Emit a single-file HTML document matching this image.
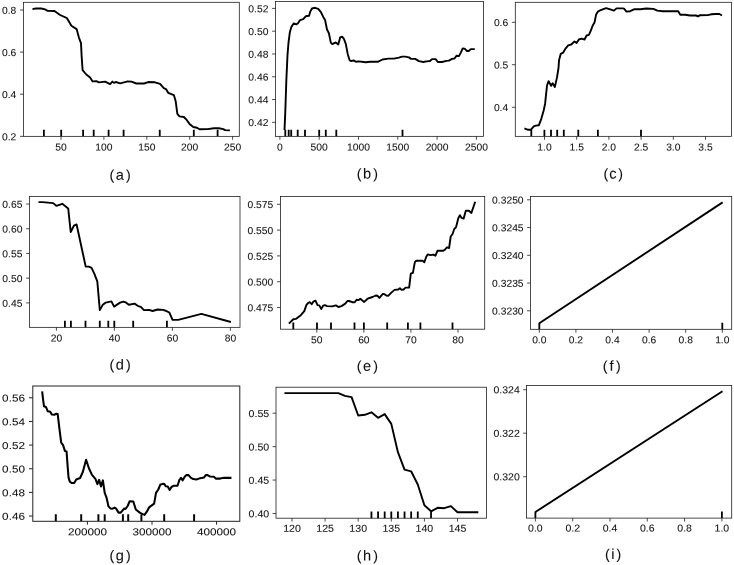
<!DOCTYPE html>
<html><head><meta charset="utf-8"><title>Partial dependence plots</title>
<style>
html,body{margin:0;padding:0;background:#fff;}
body{width:734px;height:565px;overflow:hidden;}
svg{display:block;filter:grayscale(1);}
svg text{font-family:"Liberation Sans",sans-serif;fill:#111;stroke:#111;stroke-width:0.08px;text-rendering:geometricPrecision;}
</style></head><body>
<svg xmlns="http://www.w3.org/2000/svg" width="734" height="565" viewBox="0 0 734 565">
<rect width="734" height="565" fill="#fff"/>
<g id="pa">
<polyline points="32.5,9.15 35.65,8.5 41.3,8.5 45.05,9.4 47.6,10.8 54.5,11 60.1,15 67,18.2 71.4,25.7 76.6,29.1 78.9,37.6 81,43.2 81.65,56.4 82.6,70.1 86.3,74.5 90.1,77.6 92.6,81.4 96.4,81.1 98.9,82.4 105.1,81.6 110.1,84.15 112.4,81.6 113.9,82.9 115.8,82 120.2,83.3 127.7,81.4 131.4,81.6 136.5,83.5 144,83.5 148.15,82.05 155,82.3 160.05,83.8 163.8,88.2 165.95,89.1 168.2,92.85 173.85,95.1 175.7,101.35 177.35,113.9 179.5,116.4 183.9,117 186.4,119.55 189.5,123.9 193.3,127.05 197,127.7 199.5,129.3 207.6,129.1 213.9,128.2 218.9,128.2 223.3,129.1 225.15,130.1 229.9,130.35" fill="none" stroke="#000" stroke-width="1.9" stroke-linejoin="round" stroke-linecap="butt"/>
<path d="M43.9 136.35V129.75M61.2 136.35V129.75M83.1 136.35V129.75M93.7 136.35V129.75M108.6 136.35V129.75M123.6 136.35V129.75M159.75 136.35V129.75M193.8 136.35V129.75M217.6 136.35V129.75" stroke="#000" stroke-width="1.8" fill="none"/>
<rect x="23.4" y="2.3" width="215.9" height="134.05" fill="none" stroke="#1a1a1a" stroke-width="0.78"/>
<path d="M61 136.35v3.4M103.9 136.35v3.4M146.8 136.35v3.4M189.7 136.35v3.4M232.6 136.35v3.4M23.4 10h-3.4M23.4 52.1h-3.4M23.4 94.2h-3.4M23.4 136.35h-3.4" stroke="#1a1a1a" stroke-width="0.78" fill="none"/>
<text transform="translate(61 150.4) rotate(0.03) scale(1.03 1)" text-anchor="middle" font-size="10.0">50</text>
<text transform="translate(103.9 150.4) rotate(0.03) scale(1.03 1)" text-anchor="middle" font-size="10.0">100</text>
<text transform="translate(146.8 150.4) rotate(0.03) scale(1.03 1)" text-anchor="middle" font-size="10.0">150</text>
<text transform="translate(189.7 150.4) rotate(0.03) scale(1.03 1)" text-anchor="middle" font-size="10.0">200</text>
<text transform="translate(232.6 150.4) rotate(0.03) scale(1.03 1)" text-anchor="middle" font-size="10.0">250</text>
<text transform="translate(16.3 13.8) rotate(0.03) scale(1.03 1)" text-anchor="end" font-size="10.0">0.8</text>
<text transform="translate(16.3 55.9) rotate(0.03) scale(1.03 1)" text-anchor="end" font-size="10.0">0.6</text>
<text transform="translate(16.3 98) rotate(0.03) scale(1.03 1)" text-anchor="end" font-size="10.0">0.4</text>
<text transform="translate(16.3 140.15) rotate(0.03) scale(1.03 1)" text-anchor="end" font-size="10.0">0.2</text>
<text transform="translate(109.55 179.7) rotate(0.03)" font-size="14.2">(</text>
<text transform="translate(130.75 179.7) rotate(0.03)" text-anchor="end" font-size="14.2">)</text>
<text transform="translate(119.85 179.7) rotate(0.03)" text-anchor="middle" font-size="14.6">a</text>
</g>
<g id="pb">
<polyline points="284.5,130.1 285.26,112.7 286.35,80 287.5,55.15 288.5,42.6 289.8,32.6 291.3,26.95 293.8,23.4 296.3,24.4 298.2,22.9 300.1,20.05 303.2,19.2 305.7,16.3 309.1,15.7 310.1,11.9 312,8.5 315.1,7.8 318.2,8.8 320.75,11.9 323.25,16.9 325.1,20.05 327,29.45 328.9,33.2 330.8,42.6 332.3,44.1 335.8,42.4 338.3,44.5 340.2,37.35 342.1,36.7 343.9,38.85 345.8,43.9 347.7,53.9 349.6,60.2 350.8,61 354,60.5 355.85,61.7 358.8,61.35 365.7,62.2 370.1,61.7 378.2,61.7 382.6,59.5 388.25,58.6 393.9,58.6 398.9,57.6 402,56.6 405.2,56.6 408.9,57.35 411.05,58.85 415.2,58.85 418.95,61.1 423.3,62 426.5,61.35 430,61 432,59.1 435.6,59.1 437.85,62 442,62 446.4,60.9 448.9,60.6 452,58.9 454.5,58.5 456.65,55.7 458.9,56.1 460.8,52.6 462.7,48.5 464.55,48.6 467.05,51 468.7,51 470.8,49.1 474.8,49.1" fill="none" stroke="#000" stroke-width="1.9" stroke-linejoin="round" stroke-linecap="butt"/>
<path d="M285.3 136.35V129.75M288.7 136.35V129.75M291.2 136.35V129.75M297.7 136.35V129.75M305 136.35V129.75M319.2 136.35V129.75M325.8 136.35V129.75M336.3 136.35V129.75M402.5 136.35V129.75" stroke="#000" stroke-width="1.8" fill="none"/>
<rect x="275.5" y="1.6" width="208.1" height="134.75" fill="none" stroke="#1a1a1a" stroke-width="0.78"/>
<path d="M279.9 136.35v3.4M319.2 136.35v3.4M358.5 136.35v3.4M397.8 136.35v3.4M437.1 136.35v3.4M476.4 136.35v3.4M275.5 8.4h-3.4M275.5 31.18h-3.4M275.5 53.96h-3.4M275.5 76.74h-3.4M275.5 99.52h-3.4M275.5 122.3h-3.4" stroke="#1a1a1a" stroke-width="0.78" fill="none"/>
<text transform="translate(279.9 150.4) rotate(0.03) scale(1.03 1)" text-anchor="middle" font-size="10.0">0</text>
<text transform="translate(319.2 150.4) rotate(0.03) scale(1.03 1)" text-anchor="middle" font-size="10.0">500</text>
<text transform="translate(358.5 150.4) rotate(0.03) scale(1.03 1)" text-anchor="middle" font-size="10.0">1000</text>
<text transform="translate(397.8 150.4) rotate(0.03) scale(1.03 1)" text-anchor="middle" font-size="10.0">1500</text>
<text transform="translate(437.1 150.4) rotate(0.03) scale(1.03 1)" text-anchor="middle" font-size="10.0">2000</text>
<text transform="translate(476.4 150.4) rotate(0.03) scale(1.03 1)" text-anchor="middle" font-size="10.0">2500</text>
<text transform="translate(268.4 12.2) rotate(0.03) scale(1.03 1)" text-anchor="end" font-size="10.0">0.52</text>
<text transform="translate(268.4 34.98) rotate(0.03) scale(1.03 1)" text-anchor="end" font-size="10.0">0.50</text>
<text transform="translate(268.4 57.76) rotate(0.03) scale(1.03 1)" text-anchor="end" font-size="10.0">0.48</text>
<text transform="translate(268.4 80.54) rotate(0.03) scale(1.03 1)" text-anchor="end" font-size="10.0">0.46</text>
<text transform="translate(268.4 103.32) rotate(0.03) scale(1.03 1)" text-anchor="end" font-size="10.0">0.44</text>
<text transform="translate(268.4 126.1) rotate(0.03) scale(1.03 1)" text-anchor="end" font-size="10.0">0.42</text>
<text transform="translate(356.8 178.6) rotate(0.03)" font-size="14.2">(</text>
<text transform="translate(377.9 178.6) rotate(0.03)" text-anchor="end" font-size="14.2">)</text>
<text transform="translate(367.05 178.6) rotate(0.03)" text-anchor="middle" font-size="14.6">b</text>
</g>
<g id="pc">
<polyline points="524.4,128.4 528.2,129.8 530.7,129.8 533.8,126.3 535.7,125.65 538.8,125.3 541.3,118.8 543.8,110 545.1,103.7 547,85.55 548.6,81.15 551.1,85.8 552.6,83.3 554.85,87.05 557,77.4 558.5,68 559.05,60.2 560.7,53.9 563.2,52.6 565.7,48.3 568.2,45.4 571.3,44.5 574.5,41.4 576.6,42.9 578.85,39.5 581.4,38.6 584.5,39.5 586.6,35.5 588.9,34.85 590.8,30.7 592.6,25.7 594.5,22.6 596.15,14.4 597.65,11.9 600.2,10.3 603.3,9.15 606.2,8.15 610.2,9.4 613.95,10.65 616.5,8.4 622.7,8.4 624,8.6 626.5,11.6 630.1,11.2 634,9.3 640.2,9.3 646.4,8.5 653.4,8.85 657.3,10.6 662.7,11.2 678.2,11.2 680.3,14.75 685.2,14.75 689.9,15.5 696.1,15.5 698,16.3 700,15.2 707.75,15.1 711.6,14.3 715.5,14 719.4,14 722,15.5" fill="none" stroke="#000" stroke-width="1.9" stroke-linejoin="round" stroke-linecap="butt"/>
<path d="M531.3 136.35V129.75M544.4 136.35V129.75M551 136.35V129.75M557.2 136.35V129.75M563.8 136.35V129.75M578.3 136.35V129.75M597.9 136.35V129.75M641 136.35V129.75" stroke="#000" stroke-width="1.8" fill="none"/>
<rect x="515.3" y="2.3" width="216.3" height="134.05" fill="none" stroke="#1a1a1a" stroke-width="0.78"/>
<path d="M544.5 136.35v3.4M576.7 136.35v3.4M608.9 136.35v3.4M641.1 136.35v3.4M673.3 136.35v3.4M705.5 136.35v3.4M515.3 22.3h-3.4M515.3 64.7h-3.4M515.3 107.3h-3.4" stroke="#1a1a1a" stroke-width="0.78" fill="none"/>
<text transform="translate(544.5 150.4) rotate(0.03) scale(1.03 1)" text-anchor="middle" font-size="10.0">1.0</text>
<text transform="translate(576.7 150.4) rotate(0.03) scale(1.03 1)" text-anchor="middle" font-size="10.0">1.5</text>
<text transform="translate(608.9 150.4) rotate(0.03) scale(1.03 1)" text-anchor="middle" font-size="10.0">2.0</text>
<text transform="translate(641.1 150.4) rotate(0.03) scale(1.03 1)" text-anchor="middle" font-size="10.0">2.5</text>
<text transform="translate(673.3 150.4) rotate(0.03) scale(1.03 1)" text-anchor="middle" font-size="10.0">3.0</text>
<text transform="translate(705.5 150.4) rotate(0.03) scale(1.03 1)" text-anchor="middle" font-size="10.0">3.5</text>
<text transform="translate(508.2 26.1) rotate(0.03) scale(1.03 1)" text-anchor="end" font-size="10.0">0.6</text>
<text transform="translate(508.2 68.5) rotate(0.03) scale(1.03 1)" text-anchor="end" font-size="10.0">0.5</text>
<text transform="translate(508.2 111.1) rotate(0.03) scale(1.03 1)" text-anchor="end" font-size="10.0">0.4</text>
<text transform="translate(603.52 178.6) rotate(0.03)" font-size="14.2">(</text>
<text transform="translate(623.01 178.6) rotate(0.03)" text-anchor="end" font-size="14.2">)</text>
<text transform="translate(612.97 178.6) rotate(0.03)" text-anchor="middle" font-size="14.6">c</text>
</g>
<g id="pd">
<polyline points="38.5,202.15 42.5,202.15 53.2,203.15 56.3,205.9 62.3,203.8 68.2,208.4 70.7,232 73.9,225.7 76.6,224.45 83.2,255 85.7,266.65 88.8,266.65 91.6,267.9 94.4,273.8 97.3,281.3 99.8,310.15 102.6,305.1 105.7,302.6 111.4,301.4 114.1,306.6 120.1,302.6 123.3,301.6 125.8,302.4 128.9,304.8 134.55,303.6 137.7,305.8 140.8,306.8 143.95,310.15 149,309.9 152.6,311 157.5,309.5 163.2,309.9 166.3,311 169.4,312.6 172.55,319.9 178.2,319.9 201.4,313.9 230.85,322" fill="none" stroke="#000" stroke-width="1.9" stroke-linejoin="round" stroke-linecap="butt"/>
<path d="M64.9 327.35V320.75M70.9 327.35V320.75M85.5 327.35V320.75M99.8 327.35V320.75M108.3 327.35V320.75M114.3 327.35V320.75M133.2 327.35V320.75M166.9 327.35V320.75" stroke="#000" stroke-width="1.8" fill="none"/>
<rect x="29.5" y="196.5" width="210.5" height="130.85" fill="none" stroke="#1a1a1a" stroke-width="0.78"/>
<path d="M56.4 327.35v3.4M114.4 327.35v3.4M172.4 327.35v3.4M230.4 327.35v3.4M29.5 204.05h-3.4M29.5 228.75h-3.4M29.5 253.45h-3.4M29.5 278.15h-3.4M29.5 302.9h-3.4" stroke="#1a1a1a" stroke-width="0.78" fill="none"/>
<text transform="translate(56.4 341.4) rotate(0.03) scale(1.03 1)" text-anchor="middle" font-size="10.0">20</text>
<text transform="translate(114.4 341.4) rotate(0.03) scale(1.03 1)" text-anchor="middle" font-size="10.0">40</text>
<text transform="translate(172.4 341.4) rotate(0.03) scale(1.03 1)" text-anchor="middle" font-size="10.0">60</text>
<text transform="translate(230.4 341.4) rotate(0.03) scale(1.03 1)" text-anchor="middle" font-size="10.0">80</text>
<text transform="translate(22.4 207.85) rotate(0.03) scale(1.03 1)" text-anchor="end" font-size="10.0">0.65</text>
<text transform="translate(22.4 232.55) rotate(0.03) scale(1.03 1)" text-anchor="end" font-size="10.0">0.60</text>
<text transform="translate(22.4 257.25) rotate(0.03) scale(1.03 1)" text-anchor="end" font-size="10.0">0.55</text>
<text transform="translate(22.4 281.95) rotate(0.03) scale(1.03 1)" text-anchor="end" font-size="10.0">0.50</text>
<text transform="translate(22.4 306.7) rotate(0.03) scale(1.03 1)" text-anchor="end" font-size="10.0">0.45</text>
<text transform="translate(109.55 369.6) rotate(0.03)" font-size="14.2">(</text>
<text transform="translate(130.75 369.6) rotate(0.03)" text-anchor="end" font-size="14.2">)</text>
<text transform="translate(119.85 369.6) rotate(0.03)" text-anchor="middle" font-size="14.6">d</text>
</g>
<g id="pe">
<polyline points="288.9,323.65 293.3,319.3 295.8,318.9 300.8,315.15 304.3,311.1 306.45,304.85 308.1,303 309.8,302.2 311.7,304.2 313.3,301.7 315.5,300.7 317.5,305.1 319.2,305.4 321.2,308.9 323.1,305.7 325,305.1 327.1,306.1 332.1,306.4 335.9,305.4 338.4,307 341.5,306.1 345.3,303.6 347.4,301 349.1,301 352.2,302.2 354.7,302.2 356.6,299.7 358.7,300.1 360.3,298.8 364.2,301.9 367.6,298.7 372.55,297 375.7,295.5 377.6,295.8 379.4,297.9 382.8,293.9 384.5,294.15 386.3,295.5 388.2,295.8 391.35,292.6 394.5,289.9 398.2,289.5 399.9,288.25 401.6,289.9 403.6,289.5 405.5,287.6 409.15,287.6 410.8,273.6 412.9,272.8 414.9,261.9 416.4,260.7 422.6,260.7 424.35,262.3 426.25,256.7 427.8,254.4 430.4,255.1 433.5,254.6 435.4,255.8 437.5,250.7 443.3,250.7 445.1,249.4 447,247.3 449.1,248 450.7,236.5 452.6,234 454.25,229 456.1,227.1 458.3,218.3 459.9,215.2 461.6,217.9 463.65,218.6 465.8,210.8 468.9,210.8 471.4,212.9 475.2,201.8" fill="none" stroke="#000" stroke-width="1.9" stroke-linejoin="round" stroke-linecap="butt"/>
<path d="M293.3 329.2V322.6M317 329.2V322.6M331 329.2V322.6M354.5 329.2V322.6M363.9 329.2V322.6M387.2 329.2V322.6M407.9 329.2V322.6M420.4 329.2V322.6M452.5 329.2V322.6" stroke="#000" stroke-width="1.8" fill="none"/>
<rect x="280.4" y="196.5" width="204.3" height="132.7" fill="none" stroke="#1a1a1a" stroke-width="0.78"/>
<path d="M316.8 329.2v3.4M363.87 329.2v3.4M410.93 329.2v3.4M458 329.2v3.4M280.4 204.3h-3.4M280.4 230.1h-3.4M280.4 255.9h-3.4M280.4 281.7h-3.4M280.4 307.5h-3.4" stroke="#1a1a1a" stroke-width="0.78" fill="none"/>
<text transform="translate(316.8 343.25) rotate(0.03) scale(1.03 1)" text-anchor="middle" font-size="10.0">50</text>
<text transform="translate(363.87 343.25) rotate(0.03) scale(1.03 1)" text-anchor="middle" font-size="10.0">60</text>
<text transform="translate(410.93 343.25) rotate(0.03) scale(1.03 1)" text-anchor="middle" font-size="10.0">70</text>
<text transform="translate(458 343.25) rotate(0.03) scale(1.03 1)" text-anchor="middle" font-size="10.0">80</text>
<text transform="translate(273.3 208.1) rotate(0.03) scale(1.03 1)" text-anchor="end" font-size="10.0">0.575</text>
<text transform="translate(273.3 233.9) rotate(0.03) scale(1.03 1)" text-anchor="end" font-size="10.0">0.550</text>
<text transform="translate(273.3 259.7) rotate(0.03) scale(1.03 1)" text-anchor="end" font-size="10.0">0.525</text>
<text transform="translate(273.3 285.5) rotate(0.03) scale(1.03 1)" text-anchor="end" font-size="10.0">0.500</text>
<text transform="translate(273.3 311.3) rotate(0.03) scale(1.03 1)" text-anchor="end" font-size="10.0">0.475</text>
<text transform="translate(356.8 370.7) rotate(0.03)" font-size="14.2">(</text>
<text transform="translate(377.9 370.7) rotate(0.03)" text-anchor="end" font-size="14.2">)</text>
<text transform="translate(367.05 370.7) rotate(0.03)" text-anchor="middle" font-size="14.6">e</text>
</g>
<g id="pf">
<polyline points="539.3,323.2 722.6,202.4" fill="none" stroke="#000" stroke-width="1.9" stroke-linejoin="round" stroke-linecap="butt"/>
<path d="M539.3 329.3V322.7M722.3 329.3V322.7" stroke="#000" stroke-width="1.8" fill="none"/>
<rect x="530.5" y="196.5" width="201.2" height="132.8" fill="none" stroke="#1a1a1a" stroke-width="0.78"/>
<path d="M539.3 329.3v3.4M575.9 329.3v3.4M612.5 329.3v3.4M649.1 329.3v3.4M685.7 329.3v3.4M722.3 329.3v3.4M530.5 199.8h-3.4M530.5 227.55h-3.4M530.5 255.3h-3.4M530.5 283.05h-3.4M530.5 310.8h-3.4" stroke="#1a1a1a" stroke-width="0.78" fill="none"/>
<text transform="translate(539.3 343.35) rotate(0.03) scale(1.03 1)" text-anchor="middle" font-size="10.0">0.0</text>
<text transform="translate(575.9 343.35) rotate(0.03) scale(1.03 1)" text-anchor="middle" font-size="10.0">0.2</text>
<text transform="translate(612.5 343.35) rotate(0.03) scale(1.03 1)" text-anchor="middle" font-size="10.0">0.4</text>
<text transform="translate(649.1 343.35) rotate(0.03) scale(1.03 1)" text-anchor="middle" font-size="10.0">0.6</text>
<text transform="translate(685.7 343.35) rotate(0.03) scale(1.03 1)" text-anchor="middle" font-size="10.0">0.8</text>
<text transform="translate(722.3 343.35) rotate(0.03) scale(1.03 1)" text-anchor="middle" font-size="10.0">1.0</text>
<text transform="translate(523.6 203.6) rotate(0.03) scale(1.03 1)" text-anchor="end" font-size="10.0">0.3250</text>
<text transform="translate(523.6 231.35) rotate(0.03) scale(1.03 1)" text-anchor="end" font-size="10.0">0.3245</text>
<text transform="translate(523.6 259.1) rotate(0.03) scale(1.03 1)" text-anchor="end" font-size="10.0">0.3240</text>
<text transform="translate(523.6 286.85) rotate(0.03) scale(1.03 1)" text-anchor="end" font-size="10.0">0.3235</text>
<text transform="translate(523.6 314.6) rotate(0.03) scale(1.03 1)" text-anchor="end" font-size="10.0">0.3230</text>
<text transform="translate(602.7 370.7) rotate(0.03)" font-size="14.2">(</text>
<text transform="translate(620.8 370.7) rotate(0.03)" text-anchor="end" font-size="14.2">)</text>
<text transform="translate(611.45 370.7) rotate(0.03)" text-anchor="middle" font-size="14.6">f</text>
</g>
<g id="pg">
<polyline points="42.15,391.3 43,398.8 44,406.3 45.9,406.9 47.8,411.3 50.2,411.7 51.8,414.45 54.3,414.7 56.2,413.8 57.7,414.1 59.3,427.6 61.2,442.65 63.1,445.2 64.9,450.9 66.55,451.4 67.55,465.1 68.55,477.6 69.8,481.6 71.6,483 74.2,483 76.3,479.5 80.1,478 82.8,472 86.1,459.8 88.9,468.2 92,474.85 95.4,478.85 97.4,484.1 99.1,479.9 101,486.4 102.9,480.4 104.7,492.9 106.45,497.3 108.5,506.4 110.4,508.4 112.6,508.65 114.45,507.6 116.2,508.7 118.55,512.6 120.7,512.6 124.1,508.6 125.5,509 127.8,505.75 129.65,501.2 133.3,501.5 135.8,509.5 140.1,512.9 144.5,514.9 147,511.4 149.1,507.4 154.15,503.6 156,492.8 158.3,489.5 160.2,484.8 162.6,483.85 164.4,484.1 165.7,486.2 167.75,486.45 169.7,489.95 171.45,487 173.9,485.7 177.5,485.7 179.4,479.9 181,477.8 182.65,480.35 184.9,476.5 186.3,475.1 188.6,475.1 190.7,477.6 193.2,479.1 196.35,479.5 198.9,478.6 203.9,477.6 205.75,475.1 207.6,475.1 210.1,476.6 213.9,476.7 215.8,478.6 220.2,478.6 223.9,477.85 231.45,477.85" fill="none" stroke="#000" stroke-width="2.05" stroke-linejoin="round" stroke-linecap="butt"/>
<path d="M55.8 521.3V514.3M81.2 521.3V514.3M98.4 521.3V514.3M104.7 521.3V514.3M122.9 521.3V514.3M128.2 521.3V514.3M141.4 521.3V514.3M164.2 521.3V514.3M194.1 521.3V514.3" stroke="#000" stroke-width="1.95" fill="none"/>
<rect x="32.8" y="386" width="207" height="135.3" fill="none" stroke="#222" stroke-width="1.0"/>
<path d="M87.4 521.3v3.4M152 521.3v3.4M216.6 521.3v3.4M32.8 397.8h-3.8M32.8 421.45h-3.8M32.8 445.1h-3.8M32.8 468.75h-3.8M32.8 492.4h-3.8M32.8 516.05h-3.8" stroke="#222" stroke-width="1.0" fill="none"/>
<text transform="translate(87.4 535.3) rotate(0.03) scale(1.17 1)" text-anchor="middle" font-size="10.0">200000</text>
<text transform="translate(152 535.3) rotate(0.03) scale(1.17 1)" text-anchor="middle" font-size="10.0">300000</text>
<text transform="translate(216.6 535.3) rotate(0.03) scale(1.17 1)" text-anchor="middle" font-size="10.0">400000</text>
<text transform="translate(24.9 401.6) rotate(0.03) scale(1.17 1)" text-anchor="end" font-size="10.0">0.56</text>
<text transform="translate(24.9 425.25) rotate(0.03) scale(1.17 1)" text-anchor="end" font-size="10.0">0.54</text>
<text transform="translate(24.9 448.9) rotate(0.03) scale(1.17 1)" text-anchor="end" font-size="10.0">0.52</text>
<text transform="translate(24.9 472.55) rotate(0.03) scale(1.17 1)" text-anchor="end" font-size="10.0">0.50</text>
<text transform="translate(24.9 496.2) rotate(0.03) scale(1.17 1)" text-anchor="end" font-size="10.0">0.48</text>
<text transform="translate(24.9 519.85) rotate(0.03) scale(1.17 1)" text-anchor="end" font-size="10.0">0.46</text>
<text transform="translate(109.55 560.3) rotate(0.03)" font-size="14.2">(</text>
<text transform="translate(130.75 560.3) rotate(0.03)" text-anchor="end" font-size="14.2">)</text>
<text transform="translate(119.85 560.3) rotate(0.03)" text-anchor="middle" font-size="14.6">g</text>
</g>
<g id="ph">
<polyline points="285.38,393.1 338.34,393.1 344.96,395.9 351.58,397.15 358.2,415.45 364.82,414.8 371.44,412.3 378.06,417.8 384.68,414.1 391.3,423.85 397.92,452.2 404.54,469.7 411.16,471.3 417.78,484.5 424.4,505.2 431.02,511.3 437.64,507.8 444.26,508.2 450.88,506.1 457.5,512.3 477.36,512.3" fill="none" stroke="#000" stroke-width="1.9" stroke-linejoin="round" stroke-linecap="square"/>
<path d="M371.44 518.2V511.6M378.06 518.2V511.6M384.68 518.2V511.6M391.3 518.2V511.6M397.92 518.2V511.6M404.54 518.2V511.6M411.16 518.2V511.6M417.78 518.2V511.6M431.02 518.2V511.6" stroke="#000" stroke-width="1.8" fill="none"/>
<rect x="276" y="387.2" width="210.6" height="131" fill="none" stroke="#1a1a1a" stroke-width="0.78"/>
<path d="M292 518.2v3.4M325.1 518.2v3.4M358.2 518.2v3.4M391.3 518.2v3.4M424.4 518.2v3.4M457.5 518.2v3.4M276 413.2h-3.4M276 446.63h-3.4M276 480.07h-3.4M276 513.5h-3.4" stroke="#1a1a1a" stroke-width="0.78" fill="none"/>
<text transform="translate(292 531.7) rotate(0.03) scale(1.06 1)" text-anchor="middle" font-size="10.0">120</text>
<text transform="translate(325.1 531.7) rotate(0.03) scale(1.06 1)" text-anchor="middle" font-size="10.0">125</text>
<text transform="translate(358.2 531.7) rotate(0.03) scale(1.06 1)" text-anchor="middle" font-size="10.0">130</text>
<text transform="translate(391.3 531.7) rotate(0.03) scale(1.06 1)" text-anchor="middle" font-size="10.0">135</text>
<text transform="translate(424.4 531.7) rotate(0.03) scale(1.06 1)" text-anchor="middle" font-size="10.0">140</text>
<text transform="translate(457.5 531.7) rotate(0.03) scale(1.06 1)" text-anchor="middle" font-size="10.0">145</text>
<text transform="translate(269.2 417) rotate(0.03) scale(1.06 1)" text-anchor="end" font-size="10.0">0.55</text>
<text transform="translate(269.2 450.43) rotate(0.03) scale(1.06 1)" text-anchor="end" font-size="10.0">0.50</text>
<text transform="translate(269.2 483.87) rotate(0.03) scale(1.06 1)" text-anchor="end" font-size="10.0">0.45</text>
<text transform="translate(269.2 517.3) rotate(0.03) scale(1.06 1)" text-anchor="end" font-size="10.0">0.40</text>
<text transform="translate(356.8 560.4) rotate(0.03)" font-size="14.2">(</text>
<text transform="translate(377.9 560.4) rotate(0.03)" text-anchor="end" font-size="14.2">)</text>
<text transform="translate(367.05 560.4) rotate(0.03)" text-anchor="middle" font-size="14.6">h</text>
</g>
<g id="pi">
<polyline points="535.4,512 722.5,391.3" fill="none" stroke="#000" stroke-width="1.9" stroke-linejoin="round" stroke-linecap="butt"/>
<path d="M535.4 518.1V511.5M721.9 518.1V511.5" stroke="#000" stroke-width="1.8" fill="none"/>
<rect x="526.6" y="385.6" width="205.1" height="132.5" fill="none" stroke="#1a1a1a" stroke-width="0.78"/>
<path d="M535.4 518.1v3.4M572.7 518.1v3.4M610 518.1v3.4M647.3 518.1v3.4M684.6 518.1v3.4M721.9 518.1v3.4M526.6 389.7h-3.4M526.6 433.2h-3.4M526.6 476.7h-3.4" stroke="#1a1a1a" stroke-width="0.78" fill="none"/>
<text transform="translate(535.4 531.5) rotate(0.03) scale(1.05 1)" text-anchor="middle" font-size="10.0">0.0</text>
<text transform="translate(572.7 531.5) rotate(0.03) scale(1.05 1)" text-anchor="middle" font-size="10.0">0.2</text>
<text transform="translate(610 531.5) rotate(0.03) scale(1.05 1)" text-anchor="middle" font-size="10.0">0.4</text>
<text transform="translate(647.3 531.5) rotate(0.03) scale(1.05 1)" text-anchor="middle" font-size="10.0">0.6</text>
<text transform="translate(684.6 531.5) rotate(0.03) scale(1.05 1)" text-anchor="middle" font-size="10.0">0.8</text>
<text transform="translate(721.9 531.5) rotate(0.03) scale(1.05 1)" text-anchor="middle" font-size="10.0">1.0</text>
<text transform="translate(519.8 393.3) rotate(0.03) scale(1.05 1)" text-anchor="end" font-size="10.0">0.324</text>
<text transform="translate(519.8 436.8) rotate(0.03) scale(1.05 1)" text-anchor="end" font-size="10.0">0.322</text>
<text transform="translate(519.8 480.3) rotate(0.03) scale(1.05 1)" text-anchor="end" font-size="10.0">0.320</text>
<text transform="translate(605.05 559.1) rotate(0.03)" font-size="14.2">(</text>
<text transform="translate(621.25 559.1) rotate(0.03)" text-anchor="end" font-size="14.2">)</text>
<text transform="translate(612.85 559.1) rotate(0.03)" text-anchor="middle" font-size="14.6">i</text>
</g>
</svg>
</body></html>
